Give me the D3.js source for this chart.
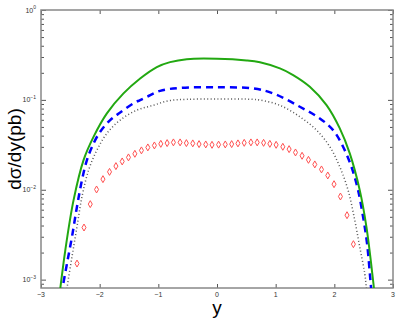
<!DOCTYPE html>
<html>
<head>
<meta charset="utf-8">
<script src="https://cdn.jsdelivr.net/npm/d3@7"></script>
<style>
  body { margin: 0; background: #fff; }
  text { font-family: "Liberation Sans", Arial, sans-serif; }
</style>
</head>
<body>
<div id="chart"></div>
<script>
// Data
var greenX = [-2.70, -2.586, -2.445, -2.275, -2.105, -1.877, -1.594, -1.31, -1.026, -0.8, -0.516, 0, 0.505, 0.732, 1.072, 1.298, 1.582, 1.867, 2.093, 2.263, 2.433, 2.547, 2.660, 2.70];
var greenY = [0.00056, 0.00212, 0.00766, 0.0214, 0.0388, 0.0708, 0.118, 0.173, 0.232, 0.263, 0.284, 0.287, 0.275, 0.262, 0.224, 0.189, 0.140, 0.0875, 0.0482, 0.0254, 0.00991, 0.00386, 0.000984, 0.00056];

var blueX = [-2.66, -2.632, -2.557, -2.472, -2.387, -2.302, -2.217, -2.105, -1.991, -1.821, -1.650, -1.424, -1.31, -1.196, -0.97, -0.63, 0, 0.618, 0.958, 1.412, 1.752, 1.979, 2.149, 2.292, 2.405, 2.49, 2.558, 2.615, 2.66];
var blueY = [0.0005, 0.000796, 0.00151, 0.00299, 0.00646, 0.0128, 0.0214, 0.0327, 0.0442, 0.0596, 0.0724, 0.0914, 0.0995, 0.108, 0.126, 0.136, 0.138, 0.134, 0.118, 0.0838, 0.0622, 0.0461, 0.0301, 0.0180, 0.00991, 0.00499, 0.00252, 0.000984, 0.00045];

var grayX = [-2.58, -2.557, -2.472, -2.387, -2.302, -2.189, -2.047, -1.877, -1.650, -1.366, -1.084, -0.829, -0.516, 0, 0.618, 0.732, 1.072, 1.412, 1.696, 1.923, 2.093, 2.234, 2.348, 2.433, 2.518, 2.547, 2.57];
var grayY = [0.00056, 0.000796, 0.00179, 0.00386, 0.00834, 0.0165, 0.0276, 0.0424, 0.0596, 0.0769, 0.0871, 0.0977, 0.1014, 0.102, 0.1014, 0.0995, 0.0871, 0.0649, 0.0461, 0.0301, 0.0180, 0.00991, 0.00459, 0.00231, 0.00117, 0.000796, 0.00056];

var redX = [-2.386, -2.267, -2.160, -2.053, -1.944, -1.832, -1.723, -1.616, -1.509, -1.400, -1.288, -1.179, -1.067, -0.958, -0.850, -0.743, -0.629, -0.522, -0.413, -0.306, -0.192, -0.085, 0.027, 0.141, 0.250, 0.357, 0.464, 0.578, 0.685, 0.794, 0.901, 1.008, 1.122, 1.229, 1.338, 1.450, 1.559, 1.667, 1.781, 1.888, 1.995, 2.104, 2.216, 2.325];
var redY = [0.00151, 0.00380, 0.00692, 0.01007, 0.01312, 0.01581, 0.01832, 0.02065, 0.02291, 0.02512, 0.02742, 0.02958, 0.03112, 0.03243, 0.03304, 0.03365, 0.03365, 0.03304, 0.03281, 0.03221, 0.03192, 0.03162, 0.03177, 0.03192, 0.03221, 0.03281, 0.03327, 0.03365, 0.03365, 0.03327, 0.03243, 0.03162, 0.03006, 0.02831, 0.02600, 0.02388, 0.02153, 0.01914, 0.01683, 0.01442, 0.01153, 0.00841, 0.00521, 0.00248];

var xTicks = [-3, -2, -1, 0, 1, 2, 3];
var yMajor = [1e-3, 1e-2, 1e-1, 1];
var yLabels = ["\u22123", "\u22122", "\u22121", "0"];

// Chart set up
var svgWidth = 399;
var svgHeight = 320;
var margin = { top: 10, bottom: 32, right: 6, left: 41 };
var width = svgWidth - margin.left - margin.right;
var height = svgHeight - margin.top - margin.bottom;

var svg = d3.select("#chart")
  .append("svg")
  .attr("width", svgWidth)
  .attr("height", svgHeight);

var chartGroup = svg.append("g")
  .attr("transform", `translate(${margin.left}, ${margin.top})`);

var xScale = d3.scaleLinear().domain([-3, 3]).range([0, width]);
var yScale = d3.scaleLog().domain([8.07e-4, 1]).range([height, 0]);

svg.append("defs").append("clipPath").attr("id", "clip")
  .append("rect").attr("width", width).attr("height", height);

// minor ticks on log axis
var yMinor = [];
[1e-4, 1e-3, 1e-2, 1e-1].forEach(function(d) {
  for (var k = 2; k <= 9; k++) {
    var v = d * k;
    if (v >= 8.07e-4 && v < 1) yMinor.push(v);
  }
});

var axisColor = "#888";
var tickColor = "#555";

// Axes
var leftAxis = d3.axisLeft(yScale).tickValues(yMajor).tickSize(-5).tickFormat("");
var leftMinor = d3.axisLeft(yScale).tickValues(yMinor).tickSize(-3).tickFormat("");
var rightAxis = d3.axisRight(yScale).tickValues(yMajor).tickSize(-5).tickFormat("");
var rightMinor = d3.axisRight(yScale).tickValues(yMinor).tickSize(-3).tickFormat("");
var bottomAxis = d3.axisBottom(xScale).tickValues(xTicks).tickSize(-4).tickFormat("");
var topAxis = d3.axisTop(xScale).tickValues(xTicks).tickSize(-4).tickFormat("");

[[leftAxis, 0, 0], [leftMinor, 0, 0], [rightAxis, width, 0], [rightMinor, width, 0],
 [bottomAxis, 0, height], [topAxis, 0, 0]].forEach(function(a) {
  var g = chartGroup.append("g")
    .attr("transform", `translate(${a[1]}, ${a[2]})`)
    .call(a[0]);
  g.select(".domain").remove();
  g.selectAll("line").attr("stroke", tickColor).attr("stroke-width", 1);
});

// frame
chartGroup.append("rect")
  .attr("width", width)
  .attr("height", height)
  .attr("fill", "none")
  .attr("stroke", axisColor)
  .attr("stroke-width", 1.5);

// tick labels
chartGroup.selectAll(".xlab")
  .data(xTicks)
  .enter()
  .append("text")
  .attr("x", d => xScale(d))
  .attr("y", height + 9)
  .attr("text-anchor", "middle")
  .attr("font-size", 7)
  .attr("fill", "#333")
  .text(d => d < 0 ? "\u2212" + Math.abs(d) : d);

var yl = chartGroup.selectAll(".ylab")
  .data(yMajor)
  .enter()
  .append("text")
  .attr("x", -5)
  .attr("y", d => yScale(d) + 2.5)
  .attr("text-anchor", "end")
  .attr("font-size", 7)
  .attr("fill", "#333");
yl.append("tspan").text("10");
yl.append("tspan").attr("dy", -3.5).attr("font-size", 5).text((d, i) => yLabels[i]);

// axis titles
svg.append("text")
  .attr("transform", `translate(21, ${margin.top + height / 2}) rotate(-90)`)
  .attr("text-anchor", "middle")
  .attr("font-size", 19)
  .attr("fill", "#000")
  .text("d\u03c3/dy(pb)");

svg.append("text")
  .attr("x", margin.left + width / 2)
  .attr("y", 314)
  .attr("text-anchor", "middle")
  .attr("font-size", 19)
  .attr("fill", "#000")
  .text("y");

// curves
var plot = chartGroup.append("g").attr("clip-path", "url(#clip)");

function curve(xs, ys) {
  return d3.line()
    .x(d => xScale(xs[d]))
    .y(d => yScale(ys[d]))
    .curve(d3.curveCatmullRom.alpha(0.5))(d3.range(xs.length));
}

plot.append("path")
  .attr("d", curve(grayX, grayY))
  .attr("fill", "none")
  .attr("stroke", "#555")
  .attr("stroke-width", 1.5)
  .attr("stroke-dasharray", "1,2.4");

plot.append("path")
  .attr("d", curve(blueX, blueY))
  .attr("fill", "none")
  .attr("stroke", "#0000ff")
  .attr("stroke-width", 2.5)
  .attr("stroke-dasharray", "7,5");

plot.append("path")
  .attr("d", curve(greenX, greenY))
  .attr("fill", "none")
  .attr("stroke", "#22a811")
  .attr("stroke-width", 2);

plot.selectAll(".pt")
  .data(redX)
  .enter()
  .append("path")
  .attr("transform", (d, i) => `translate(${xScale(d)}, ${yScale(redY[i])})`)
  .attr("d", d3.symbol().type(d3.symbolDiamond).size(14))
  .attr("fill", "none")
  .attr("stroke", "#ff5050")
  .attr("stroke-width", 1);
</script>
</body>
</html>
